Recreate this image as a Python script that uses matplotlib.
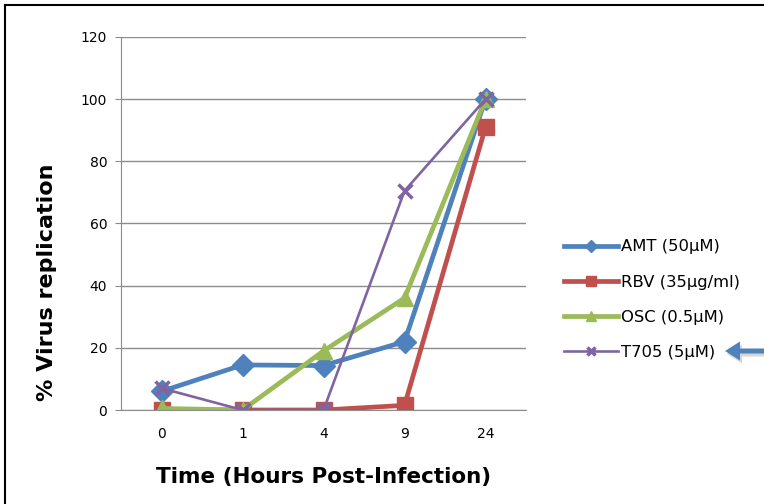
import numpy as np
from matplotlib import pyplot as plt
from matplotlib.patches import FancyArrow
from matplotlib.lines import Line2D

times = ['0', '1', '4', '9', '24']
amt = [6, 14.5, 14.3, 22, 100]
rbv = [0, 0, 0, 1.5, 91]
osc = [0.5, 0, 19, 36, 100]
t705 = [7, 0, 0, 70.5, 100]

labels = ['AMT (50µM)', 'RBV (35µg/ml)', 'OSC (0.5µM)', 'T705 (5µM)']
colors = ['#4F81BD', '#C0504D', '#9BBB59', '#8064A2']

fig = plt.figure(figsize=(7.64, 5.04), dpi=100)
ax = fig.add_axes([0.1584, 0.1865, 0.5301, 0.7401])

x = np.arange(len(times))
series = [amt, rbv, osc, t705]
markers = ['D', 's', '^', 'x']
msizes = [11, 12, 12, 10]
widths = [3.4, 3.4, 3.4, 1.9]

handles = []
for vals, lab, c, m, ms, lw in zip(series, labels, colors, markers, msizes, widths):
    h, = ax.plot(x, vals, color=c, lw=lw, marker=m, ms=ms, mew=2.5 if m == 'x' else 1,
                 mec=c, mfc=c, label=lab, solid_joinstyle='round')
    handles.append(h)

ax.set_xlim(-0.5, 4.5)
ax.set_ylim(0, 120)
ax.set_yticks(range(0, 121, 20))
ax.set_xticks(x)
ax.set_xticklabels(times)
ax.yaxis.grid(True, color='#8c8c8c', lw=1)
ax.set_axisbelow(True)
for s in ['top', 'right']:
    ax.spines[s].set_visible(False)
for s in ['left', 'bottom']:
    ax.spines[s].set_color('#8c8c8c')
ax.tick_params(axis='y', length=4, color='#8c8c8c', labelsize=10, pad=6)
ax.tick_params(axis='x', length=0, labelsize=10, pad=12)

ax.set_ylabel('% Virus replication', fontsize=16, fontweight='bold')
ax.yaxis.set_label_coords(-0.157, 0.343)
ax.set_xlabel('Time (Hours Post-Infection)', fontsize=15.5, fontweight='bold', labelpad=19)

leg = fig.legend(handles=handles, loc='upper left', bbox_to_anchor=(0.729, 0.538),
                 frameon=False, fontsize=11.8, handlelength=3.3, labelspacing=1.23,
                 handletextpad=0.2, markerscale=0.55, borderaxespad=0)

# outer frame (left and top edges only visible)
fig.add_artist(Line2D([5 / 764, 5 / 764], [0, 1 - 5 / 504], color='black', lw=1.5,
                      transform=fig.transFigure))
fig.add_artist(Line2D([5 / 764, 1], [1 - 5 / 504, 1 - 5 / 504], color='black', lw=1.5,
                      transform=fig.transFigure))

# arrow pointing at T705, with a soft shadow
for dx, dy, c, a in [(0.02, -0.03, '#9a9a9a', 0.4), (0, 0, '#4F81BD', 1)]:
    fig.add_artist(FancyArrow(7.70 + dx, 1.53 + dy, -0.45, 0, width=0.05,
                              head_width=0.19, head_length=0.15,
                              length_includes_head=True, color=c, alpha=a, lw=0,
                              transform=fig.dpi_scale_trans))

fig.savefig('out.png', dpi=100)
